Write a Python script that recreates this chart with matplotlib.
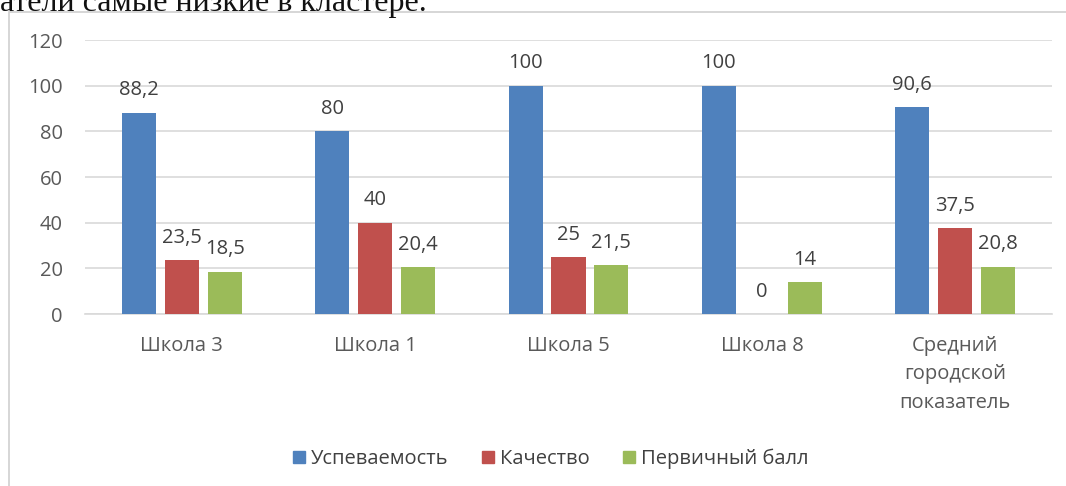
import numpy as np
import matplotlib.pyplot as plt
from matplotlib.patches import Rectangle
from matplotlib.lines import Line2D

# DATA

categories = ["Школа 3", "Школа 1", "Школа 5", "Школа 8", "Средний\nгородской\nпоказатель"]
uspevaemost = [88.2, 80, 100, 100, 90.6]
kachestvo = [23.5, 40, 25, 0, 37.5]
perv_ball = [18.5, 20.4, 21.5, 14, 20.8]
series_names = ["Успеваемость", "Качество", "Первичный балл"]
colors = ["#4f81bd", "#c0504d", "#9bbb59"]
y_ticks = [0, 20, 40, 60, 80, 100, 120]

plt.rcParams['font.family'] = ['Open Sans', 'DejaVu Sans']
FS = 14.5

fig = plt.figure(figsize=(10.66, 4.86), dpi=100)
ax = fig.add_axes([85 / 1066, 172 / 486, 967 / 1066, 274 / 486])

# chart frame (light gray border) and the cut text line above it
fig.add_artist(Rectangle((9 / 1066, -0.05), 1.2, 1 - 12 / 486 + 0.05, transform=fig.transFigure,
                         fill=False, edgecolor="#d0d0d0", linewidth=1.2))
fig.text(0.0, 1 - 11 / 486, "атели самые низкие в кластере.", family="Liberation Serif",
         fontsize=23, va="baseline", ha="left", color="#111111")

x = np.arange(len(categories))
width = 0.176
offset = 0.222

for i, (vals, name, col) in enumerate(zip([uspevaemost, kachestvo, perv_ball], series_names, colors)):
    xs = x + (i - 1) * offset
    ax.bar(xs, vals, width=width, color=col, label=name, zorder=3)
    for xi, v in zip(xs, vals):
        lbl = f"{v:g}".replace(".", ",")
        ax.annotate(lbl, (xi, v), xytext=(0, 12.5), textcoords="offset points",
                    ha="center", va="baseline", fontsize=FS, color="#404040")

ax.set_xlim(-0.5, len(categories) - 0.5)
ax.set_ylim(0, 120)
ax.set_yticks(y_ticks)
ax.set_yticklabels([str(t) for t in y_ticks])
ax.set_xticks(x)
ax.set_xticklabels(categories, linespacing=1.55)
ax.yaxis.grid(True, color="#d9d9d9", linewidth=1.2, zorder=0)
ax.tick_params(axis="y", length=0, pad=16, labelsize=FS, labelcolor="#595959")
ax.tick_params(axis="x", length=0, pad=16, labelsize=FS, labelcolor="#595959")
for s in ["top", "right", "left"]:
    ax.spines[s].set_visible(False)
ax.spines["bottom"].set_color("#d9d9d9")
ax.spines["bottom"].set_linewidth(1.2)

handles = [Line2D([], [], marker="s", linestyle="none", markersize=9,
                  markerfacecolor=c, markeredgecolor=c) for c in colors]
fig.legend(handles, series_names, loc="center", bbox_to_anchor=(550 / 1066, 1 - 459 / 486),
           ncol=3, frameon=False, fontsize=FS, labelcolor="#404040",
           handlelength=0.7, handletextpad=0.25, columnspacing=1.6)

fig.savefig("out.png", dpi=100, facecolor="white")
